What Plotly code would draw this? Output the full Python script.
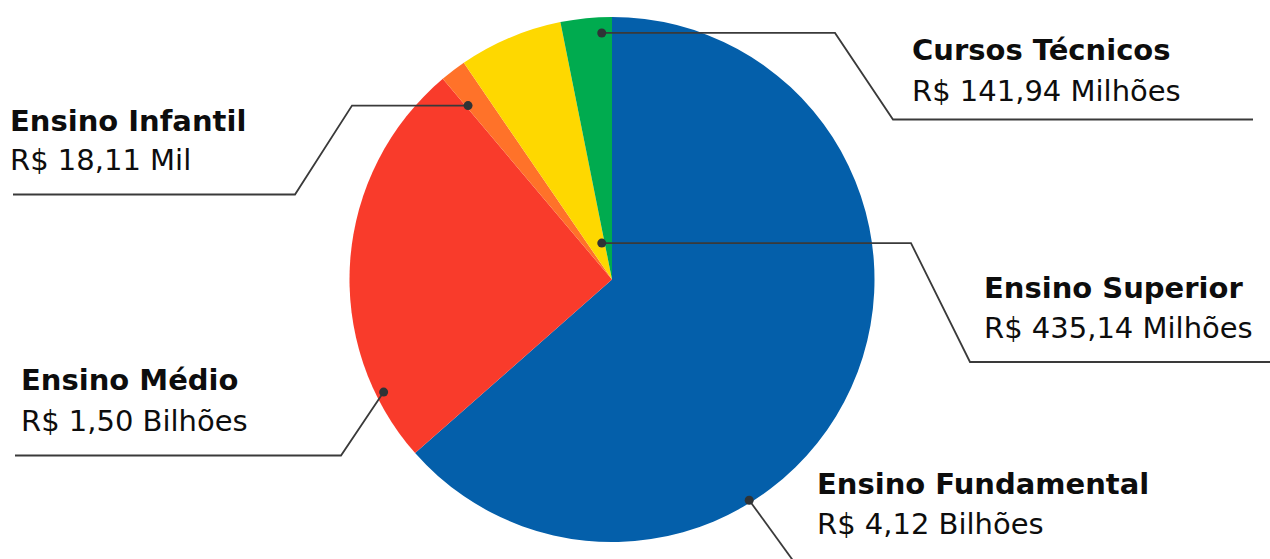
import math
import plotly.graph_objects as go

# ---- data -------------------------------------------------------------
categorias = ["Ensino Fundamental", "Ensino Médio", "Ensino Infantil",
              "Ensino Superior", "Cursos Técnicos"]
# share of the circle each slice occupies in the picture (%)
participacao = [63.5, 25.35, 1.6, 6.4, 3.15]
valores_rotulo = ["R$ 4,12 Bilhões", "R$ 1,50 Bilhões", "R$ 18,11 Mil",
                  "R$ 435,14 Milhões", "R$ 141,94 Milhões"]
cores = ["#045FAA", "#F93B2B", "#FF7229", "#FED800", "#00AB4F"]

# ---- layout constants (pixels) ----------------------------------------
W, H = 1270, 559
CX, CY, R = 612, 279.5, 262.5
FONT = "DejaVu Sans"
FS = 29
BASE_OFF = 31       # distance from annotation top to text baseline
X_OFF = 2           # annotation border padding
LINE = "#3A3A3A"
DOT = "#2F3336"

# leader-line layout per category: anchor within slice (fraction of angle,
# fraction of radius), elbow points, label (left x, baseline 1, baseline 2)
leader = {
    "Ensino Fundamental": dict(t=0.648, rf=0.99, pts=[(797, 566)], lab=(817, 496, 536)),
    "Ensino Médio": dict(t=0.166, rf=0.97, pts=[(341, 455.5), (15, 455.5)], lab=(21, 392, 432.5)),
    "Ensino Infantil": dict(t=0.09, rf=0.86, pts=["h352", (295, 194.5), (13, 194.5)], lab=(10, 132.5, 172.5)),
    "Ensino Superior": dict(t=0.81, rf=0.144, pts=["h911", (970, 362), (1275, 362)], lab=(984, 299.5, 339.5)),
    "Cursos Técnicos": dict(t=0.79, rf=0.94, pts=["h835", (893, 119.5), (1253, 119.5)], lab=(912, 62, 102.5)),
}


def px(x):
    return x / W


def py(y):
    return 1 - y / H


fig = go.Figure(go.Pie(
    labels=categorias, values=participacao, sort=False,
    direction="clockwise", rotation=0,
    marker=dict(colors=cores, line=dict(width=0)),
    textinfo="none", hoverinfo="label+percent", showlegend=False,
    domain=dict(x=[px(CX - R), px(CX + R)], y=[py(CY + R), py(CY - R)]),
))

total = sum(participacao)
start = 0.0
shapes, annotations = [], []
for cat, val, rot in zip(categorias, participacao, valores_rotulo):
    span = 360.0 * val / total
    cfg = leader[cat]
    ang = math.radians(start + cfg["t"] * span)
    dx = CX + R * cfg["rf"] * math.sin(ang)
    dy = CY - R * cfg["rf"] * math.cos(ang)
    pts = [(dx, dy)]
    for p in cfg["pts"]:
        if isinstance(p, str):
            pts.append((float(p[1:]), dy))
        else:
            pts.append(p)
    path = "M " + " L ".join(f"{px(x):.5f},{py(y):.5f}" for x, y in pts)
    shapes.append(dict(type="path", path=path, xref="paper", yref="paper",
                       line=dict(color=LINE, width=1.8)))
    rr = 4.5
    shapes.append(dict(type="circle", xref="paper", yref="paper",
                       x0=px(dx - rr), x1=px(dx + rr), y0=py(dy + rr), y1=py(dy - rr),
                       fillcolor=DOT, line=dict(width=0)))
    lx, b1, b2 = cfg["lab"]
    for txt, base in ((f"<b>{cat}</b>", b1), (rot, b2)):
        annotations.append(dict(
            x=px(lx - X_OFF), y=py(base - BASE_OFF), xref="paper", yref="paper",
            xanchor="left", yanchor="top", align="left", showarrow=False,
            text=txt, font=dict(family=FONT, size=FS, color="#0D0D0D"),
        ))
    start += span

fig.update_layout(
    width=W, height=H, margin=dict(l=0, r=0, t=0, b=0),
    paper_bgcolor="white", plot_bgcolor="white",
    shapes=shapes, annotations=annotations, showlegend=False,
)
fig.write_html("out.html", config={"displayModeBar": False},
               post_script="document.body.style.margin='0';")
